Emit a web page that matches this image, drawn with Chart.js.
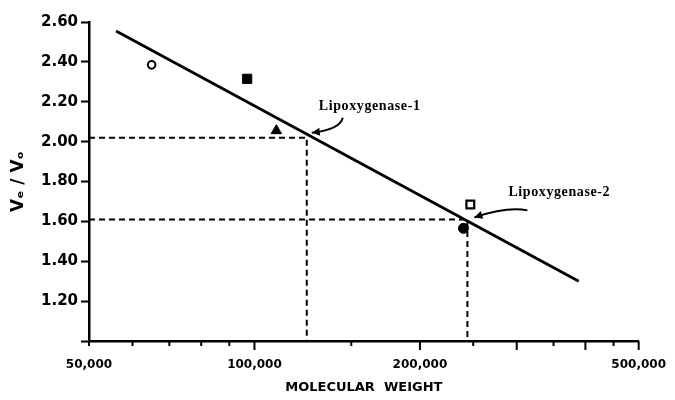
<!DOCTYPE html>
<html><head><meta charset="utf-8">
<script src="https://cdn.jsdelivr.net/npm/chart.js@4.4.1/dist/chart.umd.min.js"></script>
<style>html,body{margin:0;padding:0;background:#fff}</style>
</head><body>
<canvas id="c" width="675" height="400"></canvas>
<script>
// ---- data ----
const fitLineMW = [56000, 389000];
const fitLineRatio = [2.555, 1.30];

const openCircleMW = [65000];   const openCircleRatio = [2.385];
const filledSquareMW = [97000]; const filledSquareRatio = [2.315];
const triangleMW = [109600];    const triangleRatio = [2.055];
const openSquareMW = [247000];  const openSquareRatio = [1.685];
const filledCircleMW = [240000]; const filledCircleRatio = [1.565];

const lox1MW = 124500; const lox1Ratio = 2.02;
const lox2MW = 244000; const lox2Ratio = 1.61;

const xTickValues = [50000,60000,70000,80000,90000,100000,150000,200000,250000,300000,350000,400000,450000,500000];
const xLabeledTicks = [50000,100000,200000,500000];
const xLongTicks = [100000,200000,300000,400000,500000];
const yTickValues = [1.0,1.2,1.4,1.6,1.8,2.0,2.2,2.4,2.6];

const pts = (xs, ys) => xs.map((v,i)=>({x:v, y:ys[i]}));
const yMin = yTickValues[0];
const xMin = xTickValues[0];

const canvas = document.getElementById('c');
const ctx0 = canvas.getContext('2d');
ctx0.letterSpacing = '1px';

const annotations = [
  {mw: lox1MW, ratio: lox1Ratio, text: 'Lipoxygenase-1', dx: 12, dy: -31, a0:[36,-20], c:[33,-8], a1:[5,-5]},
  {mw: lox2MW, ratio: lox2Ratio, text: 'Lipoxygenase-2', dx: 41, dy: -27, a0:[60,-9], c:[40,-13], a1:[7,-2]}
];

const annotPlugin = {
  id: 'annot',
  afterDatasetsDraw(chart){
    const {ctx, scales:{x, y}} = chart;
    annotations.forEach(a => {
      const px = x.getPixelForValue(a.mw), py = y.getPixelForValue(a.ratio);
      ctx.save();
      ctx.letterSpacing = '0.6px';
      ctx.font = 'bold 14px "Liberation Serif"';
      ctx.fillStyle = '#000';
      ctx.textAlign = 'left'; ctx.textBaseline = 'middle';
      ctx.fillText(a.text, px + a.dx, py + a.dy);
      const sx = px + a.a0[0], sy = py + a.a0[1];
      const cx = px + a.c[0], cy = py + a.c[1];
      const ex = px + a.a1[0], ey = py + a.a1[1];
      ctx.strokeStyle = '#000'; ctx.lineWidth = 2;
      ctx.beginPath(); ctx.moveTo(sx, sy); ctx.quadraticCurveTo(cx, cy, ex, ey); ctx.stroke();
      const ang = Math.atan2(ey - cy, ex - cx);
      const L = 8, W = 4;
      ctx.beginPath();
      ctx.moveTo(ex, ey);
      ctx.lineTo(ex - L*Math.cos(ang) + W*Math.sin(ang), ey - L*Math.sin(ang) - W*Math.cos(ang));
      ctx.lineTo(ex - L*Math.cos(ang) - W*Math.sin(ang), ey - L*Math.sin(ang) + W*Math.cos(ang));
      ctx.closePath(); ctx.fill();
      ctx.restore();
    });
  }
};

const xTickPlugin = {
  id: 'xticks',
  afterDraw(chart){
    const {ctx, scales:{x}} = chart;
    const b = x.top;
    ctx.save();
    ctx.strokeStyle = '#000'; ctx.lineWidth = 2;
    xTickValues.forEach(v => {
      const px = x.getPixelForValue(v);
      const len = xLongTicks.includes(v) ? 9 : 5;
      ctx.beginPath(); ctx.moveTo(px, b); ctx.lineTo(px, b + len); ctx.stroke();
    });
    ctx.restore();
  }
};

new Chart(canvas, {
  type: 'scatter',
  data: {
    datasets: [
      {type:'line', data: pts(fitLineMW, fitLineRatio), borderColor:'#000', borderWidth:2.8, pointRadius:0, showLine:true, fill:false},
      {type:'line', data: [{x:xMin,y:lox1Ratio},{x:lox1MW,y:lox1Ratio},{x:lox1MW,y:yMin}], borderColor:'#000', borderWidth:2, borderDash:[6,4], pointRadius:0, fill:false},
      {type:'line', data: [{x:xMin,y:lox2Ratio},{x:lox2MW,y:lox2Ratio},{x:lox2MW,y:yMin}], borderColor:'#000', borderWidth:2, borderDash:[6,4], pointRadius:0, fill:false},
      {data: pts(openCircleMW, openCircleRatio), pointStyle:'circle', pointRadius:3.8, backgroundColor:'#fff', borderColor:'#000', borderWidth:2},
      {data: pts(filledSquareMW, filledSquareRatio), pointStyle:'rect', pointRadius:6.5, backgroundColor:'#000', borderColor:'#000', borderWidth:1},
      {data: pts(triangleMW, triangleRatio), pointStyle:'triangle', pointRadius:6, backgroundColor:'#000', borderColor:'#000', borderWidth:1},
      {data: pts(openSquareMW, openSquareRatio), pointStyle:'rect', pointRadius:5.5, backgroundColor:'#fff', borderColor:'#000', borderWidth:2.2},
      {data: pts(filledCircleMW, filledCircleRatio), pointStyle:'circle', pointRadius:5, backgroundColor:'#000', borderColor:'#000', borderWidth:1}
    ]
  },
  options: {
    responsive: false,
    animation: false,
    events: [],
    layout: {padding: {left:0, right:32, top:22, bottom:0}},
    plugins: {legend:{display:false}, tooltip:{enabled:false}},
    scales: {
      x: {
        type: 'logarithmic',
        min: 50000, max: 500000,
        afterBuildTicks: s => { s.ticks = xTickValues.map(v => ({value:v})); },
        afterFit: s => { s.height = 59; },
        grid: {display:false},
        border: {display:true, color:'#000', width:2.5},
        ticks: {
          autoSkip:false, maxRotation:0, padding:9, color:'#000',
          font: {family:'"DejaVu Sans"', weight:'bold', size:12},
          callback: v => xLabeledTicks.includes(v) ? v.toLocaleString('en-US') : ''
        },
        title: {display:true, text:'MOLECULAR  WEIGHT', color:'#000',
          font:{family:'"DejaVu Sans"', weight:'bold', size:13}, padding:{top:0, bottom:5}}
      },
      y: {
        min: 1.0, max: 2.6,
        afterBuildTicks: s => { s.ticks = yTickValues.map(v => ({value:v})); },
        afterFit: s => { s.width = 89; },
        grid: {display:true, drawOnChartArea:false, drawTicks:true, tickLength:8, tickColor:'#000', tickWidth:2},
        border: {display:true, color:'#000', width:2.5},
        ticks: {
          padding:3, color:'#000',
          font: {family:'"DejaVu Sans"', weight:'bold', size:15},
          callback: v => Math.abs(v - 1.0) < 1e-9 ? '' : v.toFixed(2)
        },
        title: {display:true, text:'Vₑ / Vₒ', color:'#000',
          font:{family:'"DejaVu Sans"', weight:'bold', size:17}, padding:{top:8, bottom:0}}
      }
    }
  },
  plugins: [annotPlugin, xTickPlugin]
});
</script>
</body></html>
